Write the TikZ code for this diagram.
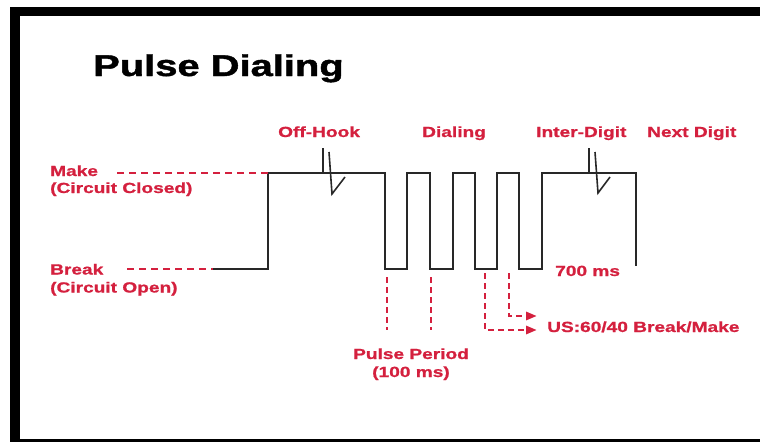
\documentclass[tikz,border=0pt]{standalone}
\usepackage{fontspec}
\setmainfont{Liberation Sans}
\newfontfamily\heavyfont[FakeBold=0.9]{Liberation Sans Bold}
\newfontfamily\titlefont[FakeBold=1.3]{Liberation Sans Bold}
\usetikzlibrary{arrows.meta}
\definecolor{redc}{RGB}{212,32,62}
\definecolor{wavec}{RGB}{40,40,40}
\newcommand{\widetxt}[2][1.3]{\scalebox{#1}[1]{#2}}
\tikzset{
  lbl/.style={inner sep=0pt, anchor=base west, text=redc,
    font=\fontsize{14.7}{17}\selectfont\heavyfont},
  clbl/.style={lbl, anchor=base},
  wave/.style={draw=wavec, line width=1.8pt, line join=miter},
  level/.style={draw=redc, line width=2.2pt, dash pattern=on 7pt off 5pt},
  vdash/.style={draw=redc, line width=2.8pt, dash pattern=on 6pt off 4pt},
  usarrow/.style={vdash, -{Triangle[length=11pt,width=8pt]}}
}
\begin{document}
\begin{tikzpicture}[x=1pt,y=-1pt]
\useasboundingbox (0,0) rectangle (760,442);
% frame
\fill[black] (10,7) rectangle (760,16);
\fill[black] (10,7) rectangle (20,442);
\fill[black] (10,439) rectangle (760,442);

% title
\node[inner sep=0pt, anchor=base west, font=\fontsize{30}{36}\selectfont\titlefont] (title) at (93,76) {\widetxt[1.33]{Pulse Dialing}};

% labels
\node[lbl] (make) at (50,176) {\widetxt{Make}};
\node[lbl] (makesub) at (50,193) {\widetxt{(Circuit Closed)}};
\node[lbl] (break) at (50,274.5) {\widetxt{Break}};
\node[lbl] (breaksub) at (50,292.5) {\widetxt{(Circuit Open)}};
\node[lbl] (offhook) at (278,137) {\widetxt{Off-Hook}};
\node[lbl] (dialing) at (422,137) {\widetxt{Dialing}};
\node[lbl] (interdigit) at (536,137) {\widetxt{Inter-Digit}};
\node[lbl] (nextdigit) at (647,137) {\widetxt{Next Digit}};
\node[lbl] (ms700) at (555,276) {\widetxt{700 ms}};
\node[lbl] (us) at (547,332) {\widetxt{US:60/40 Break/Make}};
\node[clbl] (period) at (411,359) {\widetxt{Pulse Period}};
\node[clbl] (periodsub) at (411,377) {\widetxt{(100 ms)}};

% waveform points
\coordinate (b0) at (213,269);
\coordinate (b1) at (268,269);
\coordinate (m1) at (268,173);
\coordinate (m2) at (385,173);
\coordinate (dA) at (385,269);
\coordinate (uA) at (407,269);
\coordinate (dB) at (430,269);
\coordinate (uB) at (453,269);
\coordinate (dC) at (475,269);
\coordinate (uC) at (497,269);
\coordinate (dD) at (519,269);
\coordinate (uD) at (542,269);
\coordinate (m3) at (636,173);
\coordinate (e)  at (636,266);

\draw[wave] (b0) -- (b1) -- (m1) -- (m2) -- (dA) -- (uA) -- (407,173) -- (430,173)
  -- (dB) -- (uB) -- (453,173) -- (475,173) -- (dC) -- (uC) -- (497,173) -- (519,173)
  -- (dD) -- (uD) -- (542,173) -- (m3) -- (e);

% hook / inter-digit marks
\draw[wave, line width=1.6pt] (323,148) -- (323,173);
\draw[wave, line width=1.6pt] (329,152) -- (332,194) -- (345,177);
\draw[wave, line width=1.6pt] (589,148) -- (589,173);
\draw[wave, line width=1.6pt] (595,152) -- (598,193) -- (610,177);

% level guides
\coordinate (mk0) at (117,173);
\coordinate (bk0) at (127,269);
\draw[level] (mk0) -- (m1);
\draw[level] (bk0) -- (b0);

% pulse period guides
\coordinate (p1) at (387,277);
\coordinate (p1e) at (387,330);
\coordinate (p2) at (431,277);
\coordinate (p2e) at (431,330);
\draw[vdash] (p1) -- (p1e);
\draw[vdash] (p2) -- (p2e);

% US break/make arrows
\coordinate (a1) at (485,273);
\coordinate (a1c) at (485,330);
\coordinate (a1e) at (537,330);
\coordinate (a2) at (509,273);
\coordinate (a2c) at (509,316);
\coordinate (a2e) at (537,316);
\draw[usarrow] (a1) -- (a1c) -- (a1e);
\draw[usarrow] (a2) -- (a2c) -- (a2e);
\end{tikzpicture}
\end{document}
